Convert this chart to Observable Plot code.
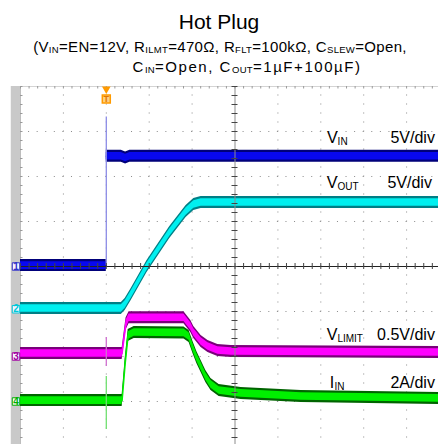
<!DOCTYPE html>
<html><head><meta charset="utf-8">
<script src="https://cdn.jsdelivr.net/npm/d3@7"></script>
<script src="https://cdn.jsdelivr.net/npm/@observablehq/plot@0.6"></script>
<style>
html,body{margin:0;padding:0;background:#fff;width:438px;height:444px;overflow:hidden;font-family:"Liberation Sans",Arial,sans-serif;}
.t{position:absolute;left:0;width:438px;text-align:center;white-space:nowrap;color:#000;}
#title{top:10px;font-size:21px;line-height:24px;}
#sub1{top:37px;left:1px;font-size:15px;line-height:20px;letter-spacing:0.35px;}
#sub2{top:57px;left:28px;font-size:15px;line-height:20px;letter-spacing:1.55px;}
sub{font-size:9.5px;vertical-align:-1px;line-height:0;letter-spacing:0.3px;}
#chart{position:absolute;left:0;top:80px;width:438px;height:364px;overflow:hidden;}
#chart svg{overflow:hidden;}
</style></head><body>
<div class="t" id="title">Hot Plug</div>
<div class="t" id="sub1">(V<sub>IN</sub>=EN=12V, R<sub>ILMT</sub>=470Ω, R<sub>FLT</sub>=100kΩ, C<sub>SLEW</sub>=Open,</div>
<div class="t" id="sub2">C<sub>IN</sub>=Open, C<sub>OUT</sub>=1µF+100µF)</div>
<div id="chart"></div>
<script>
// ---- scope settings (time in divisions, 10 div across; values in channel units)
const chNumber = ["1", "2", "3", "4"];
const chScale  = [5, 5, 0.5, 2];          // units per division
const chOffset = [0, -0.95, -2, -3];      // ground level, divisions
const chCore   = ["#0808f0", "#00f0f0", "#ff00ff", "#00f000"];
const chEdge   = ["#00007a", "#007f86", "#7a007a", "#006400"];
const chMarker = ["#3030c8", "#00c8d8", "#a000a0", "#00b000"];

// ---- traces
// Ch1 VIN (V)
const vinT = [-5, -3.0, -3.0, -2.65, -2.55, -2.45, 5];
const vinV = [0.1, 0.1, 12.25, 12.25, 12.05, 12.25, 12.25];
// Ch2 VOUT (V)
const voutT = [-5, -2.65, -2.56, -2.42, -2.05, -1.52, -1.14, -0.96, -0.79, 5];
const voutV = [0.08, 0.08, 0.53, 1.64, 4.75, 8.53, 10.86, 11.64, 11.86, 11.86];
// Ch3 VLIMIT (V)
const vlimT = [-5, -2.63, -2.54, -2.47, -1.19, -1.03, -0.96, -0.79, -0.63, -0.40, -0.09, 5];
const vlimV = [0.033, 0.033, 0.36, 0.43, 0.43, 0.333, 0.267, 0.167, 0.111, 0.067, 0.056, 0.044];
// Ch4 IIN (A)
const iinT = [-5, -2.63, -2.56, -2.49, -2.35, -1.19, -1.07, -0.98, -0.89, -0.79, -0.68, -0.56, -0.37, 0.14, 1.54, 5];
const iinV = [0.04, 0.04, 1.64, 2.93, 3.07, 3.05, 2.89, 2.4, 1.96, 1.56, 1.11, 0.76, 0.49, 0.36, 0.22, 0.13];

// trigger glitches at t = -3 (low, high) per channel
const spikeT  = [-3, -3, -3];
const spikeCh = [0, 2, 3];
const spikeLo = [0.1, -0.11, -1.24];
const spikeHi = [16.6, 0.21, 1.11];
const spikeColor = ["#8c8ce6", "#d070d0", "#70e070"];

// ---- annotations
const labelMain  = ["V", "V", "V", "I"];
const labelSub   = ["IN", "OUT", "LIMIT", "IN"];
const labelPer   = ["5V/div", "5V/div", "0.5V/div", "2A/div"];
const labelX     = [2.145, 2.14, 2.14, 2.21];
const labelY     = [2.86, 1.85, -1.51, -2.58];
const labelPerX  = [4.66, 4.59, 4.66, 4.66];
const triggerT   = -3;

// ---- grid
const majorX = [-4, -3, -2, -1, 1, 2, 3, 4];
const majorY = [-3, -2, -1, 1, 2, 3];
const minorX = d3.range(-25, 26).map(i => i / 5);
const minorY = d3.range(-20, 21).map(i => i / 5);

const PXX = 42.9, PXY = 45;           // pixels per division (from scale ranges below)
const tr = (T, V, ch) => T.map((t, i) => ({t, y: chOffset[ch] + V[i] / chScale[ch]}));
const traces = [tr(vinT, vinV, 0), tr(voutT, voutV, 1), tr(vlimT, vlimV, 2), tr(iinT, iinV, 3)];
const outer = 6 / PXY, inner = 3.8 / PXY;

const traceMarks = [];
// VIN is drawn as two separated pieces (the step edge is drawn as a thin glitch line)
const segs = [[traces[0].slice(0, 2), traces[0].slice(2)], [traces[1]], [traces[2]], [traces[3]]];
segs.forEach((pieces, ch) => {
  pieces.forEach(seg => {
    traceMarks.push(Plot.areaY(seg, {x: "t", y1: d => d.y - outer, y2: d => d.y + outer, fill: chEdge[ch]}));
    traceMarks.push(Plot.areaY(seg, {x: "t", y1: d => d.y - inner, y2: d => d.y + inner, fill: chCore[ch]}));
    traceMarks.push(Plot.line(seg, {x: "t", y: "y", stroke: chCore[ch], strokeWidth: 1.3}));
  });
});

const spikes = spikeT.map((t, i) => ({t, ch: spikeCh[i],
  lo: chOffset[spikeCh[i]] + spikeLo[i] / chScale[spikeCh[i]],
  hi: chOffset[spikeCh[i]] + spikeHi[i] / chScale[spikeCh[i]], c: spikeColor[i]}));

const labels = labelMain.map((m, i) => ({m, s: labelSub[i], p: labelPer[i], x: labelX[i], y: labelY[i],
  sx: labelX[i] + (m === "V" ? 10.6 : 4.6) / PXX, px: labelPerX[i]}));

const markers = chNumber.map((n, i) => ({n, y: chOffset[i], c: chMarker[i]}));

const chart = Plot.plot({
  width: 438, height: 364, margin: 0,
  style: {fontFamily: "Liberation Sans, Arial, sans-serif", background: "white"},
  x: {domain: [-5, 5], range: [20, 449], axis: null},
  y: {domain: [-4, 4], range: [366, 6], axis: null},
  marks: [
    // left gray strip
    Plot.rect([0], {x1: -5.215, x2: -5, y1: -4.2, y2: 4, fill: "#c9c9c9"}),
    // dotted grid
    Plot.ruleY(majorY, {y: d => d, x1: -5, x2: 5, stroke: "#8a8a8a", strokeDasharray: "1,7.58", strokeDashoffset: 0.5}),
    Plot.ruleX(majorX, {x: d => d, y1: 4, y2: -4, stroke: "#8a8a8a", strokeDasharray: "1,8", strokeDashoffset: 0.5}),
    // frame top / left edges with small ticks
    Plot.ruleY([4], {y: d => d, x1: -5, x2: 5, stroke: "#d4d4d4"}),
    Plot.ruleX([-5], {x: d => d, y1: -4, y2: 4, stroke: "#bdbdbd"}),
    Plot.ruleX(minorX, {x: d => d, y1: 4, y2: 4 - 2.5 / PXY, stroke: "#9a9a9a"}),
    Plot.ruleY(minorY, {y: d => d, x1: -5, x2: -5 + 2.5 / PXX, stroke: "#9a9a9a"}),
    // traces
    ...traceMarks,
    // trigger glitches
    Plot.ruleX(spikes, {x: "t", y1: "lo", y2: "hi", stroke: "c", strokeWidth: 1.3}),
    // centre axes with minor ticks
    Plot.ruleX([0], {x: d => d, y1: -4, y2: 4, stroke: "#8c8c8c"}),
    Plot.ruleY([0], {y: d => d, x1: -5, x2: 5, stroke: "#222"}),
    Plot.ruleX(minorX, {x: d => d, y1: -3 / PXY, y2: 3 / PXY, stroke: "#444"}),
    Plot.ruleY(minorY, {y: d => d, x1: -3 / PXX, x2: 3 / PXX, stroke: "#444"}),
    // channel labels
    Plot.text(labels, {x: "x", y: "y", text: "m", textAnchor: "start", fontSize: 16, fill: "#000"}),
    Plot.text(labels, {x: "sx", y: "y", text: "s", textAnchor: "start", fontSize: 10, dy: 4, fill: "#000"}),
    Plot.text(labels, {x: "px", y: "y", text: "p", textAnchor: "end", fontSize: 16, fill: "#000"}),
    // channel ground markers
    Plot.dot(markers, {x: -5, y: "y", dx: -4.5, symbol: "square", r: 4.2, fill: "#f4f4ff", stroke: "c", strokeWidth: 1}),
    Plot.text(markers, {x: -5, y: "y", dx: -4.5, text: "n", fill: "c", fontSize: 10, fontWeight: "bold"}),
    // trigger position marker
    Plot.dot([triggerT], {x: d => d, y: 4, dy: 2.5, symbol: "triangle", rotate: 180, r: 3.2, fill: "#ff9a00"}),
    Plot.dot([triggerT], {x: d => d, y: 4, dy: 12.5, symbol: "square", r: 4.5, fill: "#ffd080", stroke: "#ff9a00", strokeWidth: 1.5}),
    Plot.text([triggerT], {x: d => d, y: 4, dy: 12.5, text: () => "T", fill: "#e07800", fontSize: 9, fontWeight: "bold"})
  ]
});
document.getElementById("chart").appendChild(chart);
</script>
</body></html>
